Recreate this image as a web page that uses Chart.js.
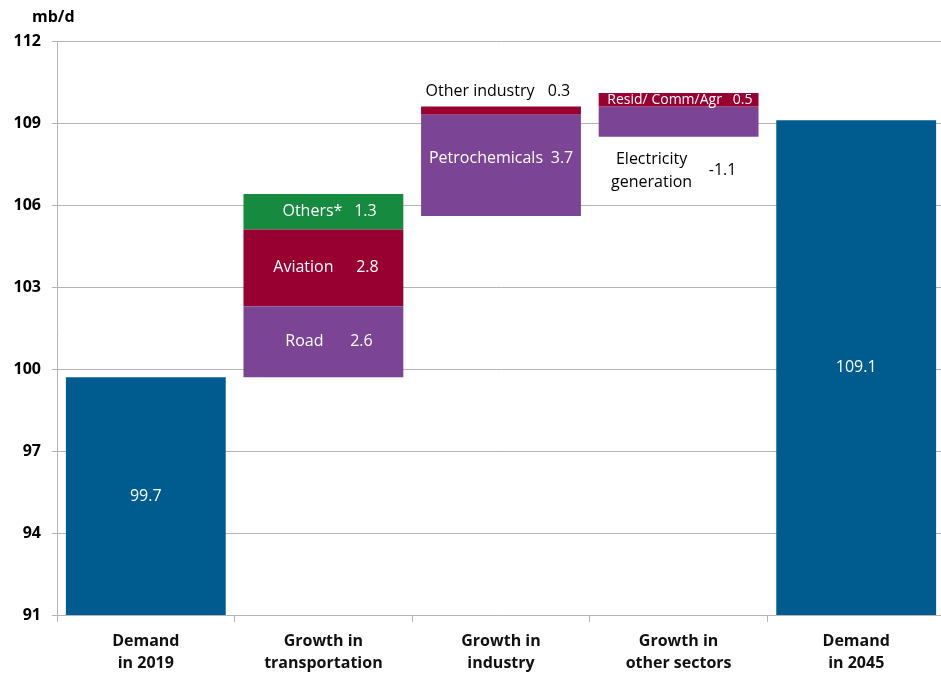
<!DOCTYPE html>
<html>
<head>
<meta charset="utf-8">
<script src="https://cdn.jsdelivr.net/npm/chart.js@4.4.1/dist/chart.umd.min.js"></script>
<style>
  html, body { margin: 0; padding: 0; background: #fff; overflow: hidden; }
  #wrap { width: 945px; height: 676px; position: relative; }
</style>
</head>
<body>
<div id="wrap"><canvas id="demandChart"></canvas></div>
<script>
// columns of the waterfall
const categories = [
  ['Demand', 'in 2019'],
  ['Growth in', 'transportation'],
  ['Growth in', 'industry'],
  ['Growth in', 'other sectors'],
  ['Demand', 'in 2045']
];
const yTicks = [91, 94, 97, 100, 103, 106, 109, 112];

// total demand, mb/d
const demandTotals = [99.7, 109.1];
const demandColumns = [0, 4];

// sector changes, mb/d
const segmentNames = ['Road', 'Aviation', 'Others*', 'Petrochemicals', 'Other industry', 'Resid/ Comm/Agr', ['Electricity', 'generation']];
const segmentValues = [2.6, 2.8, 1.3, 3.7, 0.3, 0.5, -1.1];
const segmentStarts = [99.7, 102.3, 105.1, 105.6, 109.3, 109.6, 109.6];
const segmentColumns = [1, 1, 1, 2, 2, 3, 3];

const BLUE = '#005b8e';
const PURPLE = '#7b4495';
const CRIMSON = '#990032';
const GREEN = '#168a3e';
const FONT = '"Open Sans", sans-serif';

const segmentColors = [PURPLE, CRIMSON, GREEN, PURPLE, CRIMSON, CRIMSON, PURPLE];

// where each segment's text sits relative to its bar
const segmentLabelStyle = [
  { anchor: 'mid', nameDx: -19, valueDx: 38, dy: 0, color: '#fff', size: 16 },
  { anchor: 'mid', nameDx: -20, valueDx: 44, dy: 0, color: '#fff', size: 16 },
  { anchor: 'mid', nameDx: -11, valueDx: 42, dy: 0, color: '#fff', size: 16 },
  { anchor: 'mid', nameDx: -15, valueDx: 61, dy: -7, color: '#fff', size: 16 },
  { anchor: 'above', nameDx: -21, valueDx: 58, dy: -15, color: '#000', size: 16 },
  { anchor: 'mid', nameDx: -14, valueDx: 64, dy: 0, color: '#fff', size: 14 },
  { anchor: 'below', nameDx: -27, valueDx: 44, dy: 34, color: '#000', size: 16 }
];

const BASE = yTicks[0];

function columnData(col, low, high) {
  return categories.map((_, i) => (i === col ? [low, high] : null));
}

const datasets = [{
  label: 'Demand',
  data: categories.map((_, i) => {
    const k = demandColumns.indexOf(i);
    return k >= 0 ? [BASE, demandTotals[k]] : null;
  }),
  backgroundColor: BLUE
}];

segmentValues.forEach((v, i) => {
  const a = segmentStarts[i];
  const b = a + v;
  datasets.push({
    label: Array.isArray(segmentNames[i]) ? segmentNames[i].join(' ') : segmentNames[i],
    data: columnData(segmentColumns[i], Math.min(a, b), Math.max(a, b)),
    backgroundColor: segmentColors[i]
  });
});

const segmentLabels = {
  id: 'segmentLabels',
  afterDatasetsDraw(chart) {
    const ctx = chart.ctx;
    ctx.save();
    ctx.textBaseline = 'middle';
    ctx.textAlign = 'center';

    // totals in the middle of the blue bars
    demandColumns.forEach((col, k) => {
      const bar = chart.getDatasetMeta(0).data[col];
      ctx.fillStyle = '#fff';
      ctx.font = '16px ' + FONT;
      ctx.fillText(demandTotals[k].toFixed(1), bar.x, (bar.y + bar.base) / 2);
    });

    segmentValues.forEach((v, i) => {
      const bar = chart.getDatasetMeta(i + 1).data[segmentColumns[i]];
      const s = segmentLabelStyle[i];
      const top = Math.min(bar.y, bar.base);
      const bottom = Math.max(bar.y, bar.base);
      let y = (top + bottom) / 2;
      if (s.anchor === 'above') y = top;
      if (s.anchor === 'below') y = bottom;
      y += s.dy;
      ctx.fillStyle = s.color;
      ctx.font = s.size + 'px ' + FONT;
      const name = segmentNames[i];
      if (Array.isArray(name)) {
        const lh = s.size * 1.45;
        name.forEach((line, j) => {
          ctx.fillText(line, bar.x + s.nameDx, y + (j - (name.length - 1) / 2) * lh);
        });
      } else {
        ctx.fillText(name, bar.x + s.nameDx, y);
      }
      ctx.fillText(v.toFixed(1), bar.x + s.valueDx, y);
    });

    // unit above the value axis
    ctx.fillStyle = '#000';
    ctx.font = 'bold 16px ' + FONT;
    ctx.textAlign = 'left';
    ctx.fillText('mb/d', 32, 17);
    ctx.restore();
  }
};

new Chart(document.getElementById('demandChart'), {
  type: 'bar',
  data: { labels: categories, datasets },
  options: {
    responsive: true,
    maintainAspectRatio: false,
    animation: false,
    layout: { padding: { top: 41, right: 0, bottom: 0, left: 0 } },
    datasets: {
      bar: {
        grouped: false,
        categoryPercentage: 0.9,
        barPercentage: 1.0,
        borderWidth: 0
      }
    },
    plugins: {
      legend: { display: false },
      tooltip: { enabled: false }
    },
    scales: {
      x: {
        grid: {
          offset: true,
          drawOnChartArea: false,
          drawTicks: true,
          tickLength: 7,
          color: '#b4b4b4'
        },
        border: { color: '#b4b4b4' },
        ticks: {
          color: '#111',
          padding: 8,
          font: { family: FONT, size: 16, weight: 'bold', lineHeight: 1.4 }
        },
        afterFit(scale) { scale.height = 61; }
      },
      y: {
        min: BASE,
        max: yTicks[yTicks.length - 1],
        afterBuildTicks(scale) { scale.ticks = yTicks.map(v => ({ value: v })); },
        grid: { color: '#b4b4b4', tickLength: 5 },
        border: { color: '#b4b4b4' },
        ticks: {
          color: '#000',
          padding: 11,
          font: { family: FONT, size: 16, weight: 'bold' }
        },
        afterFit(scale) { scale.width = 57; }
      }
    }
  },
  plugins: [segmentLabels]
});
</script>
</body>
</html>
